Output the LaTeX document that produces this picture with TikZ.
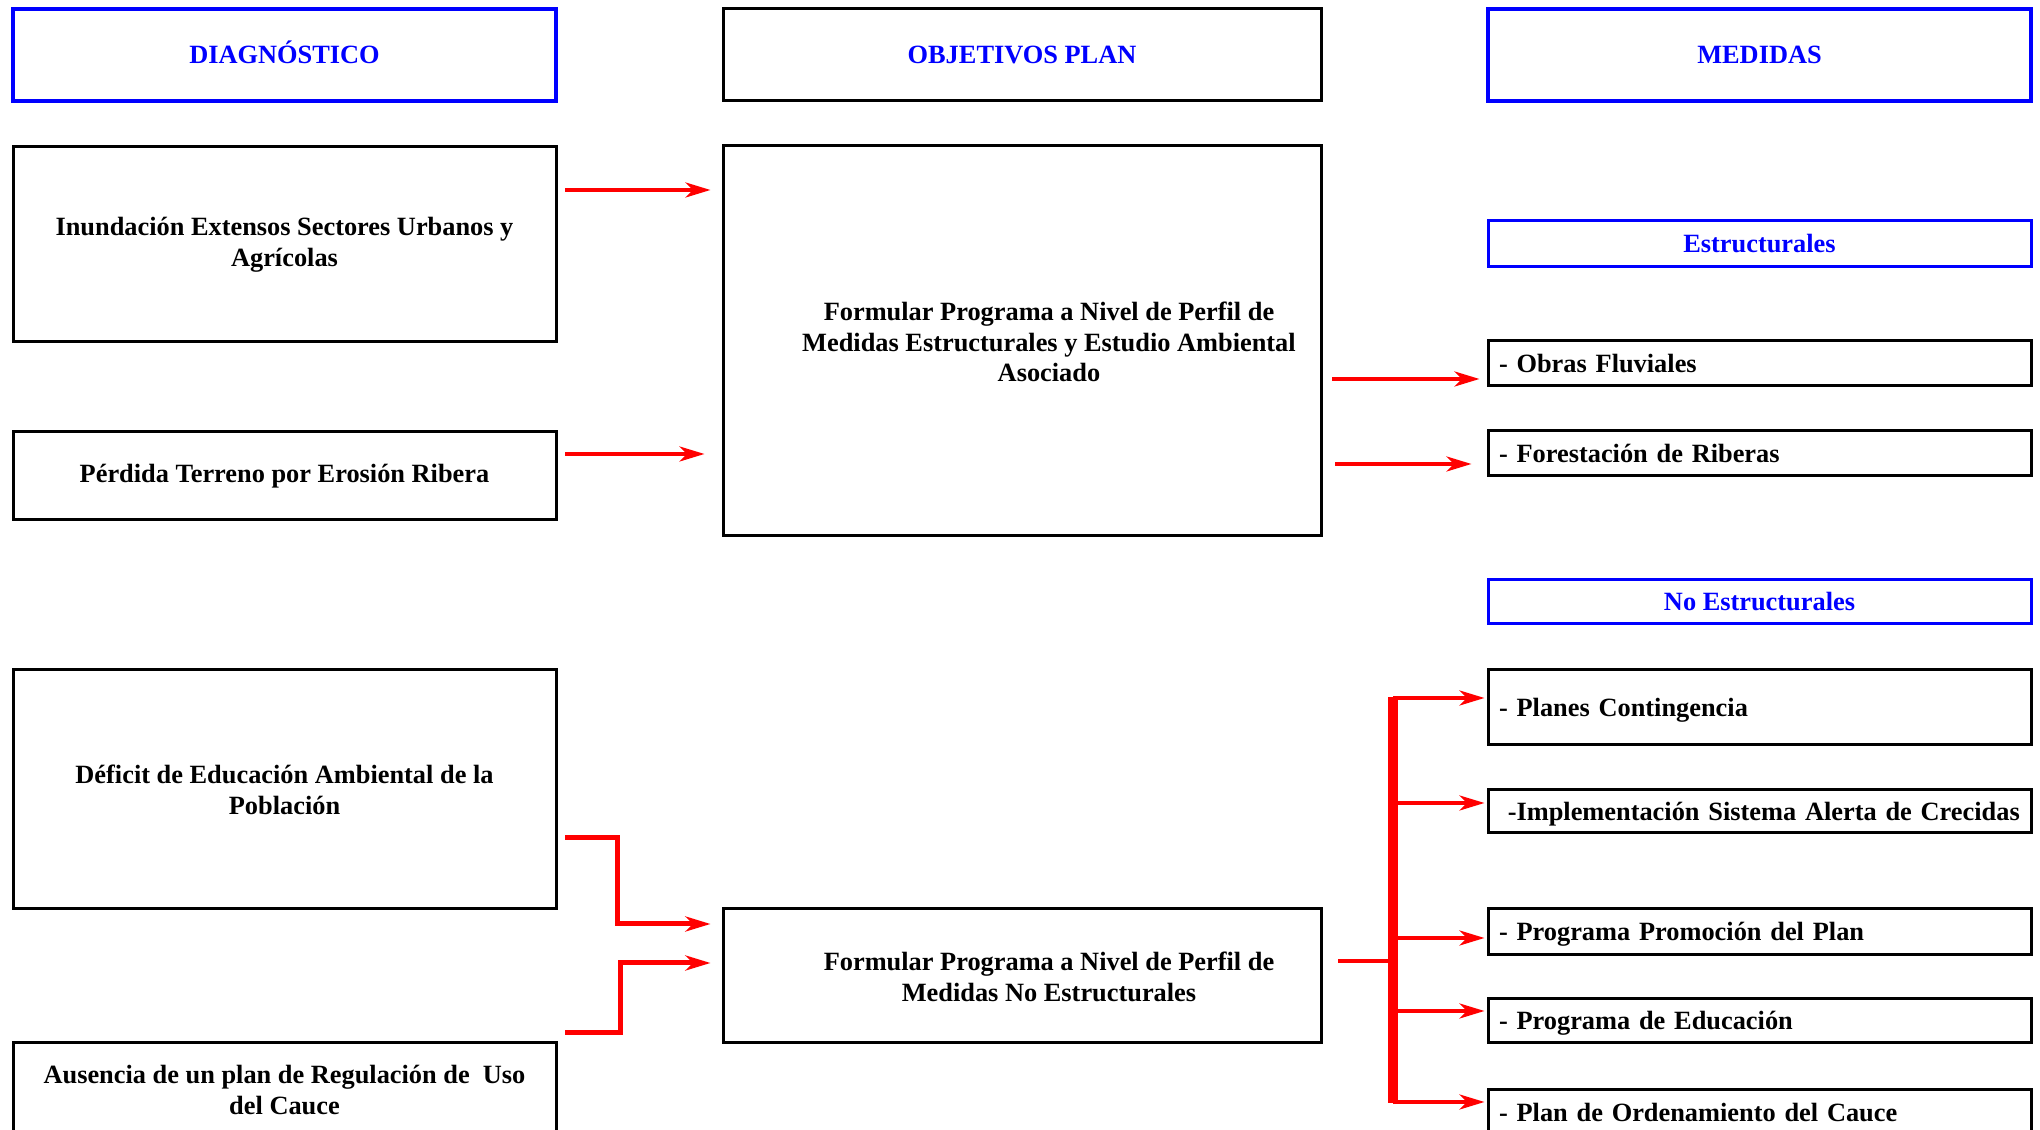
\documentclass[tikz,border=0pt]{standalone}
\usepackage{fontspec}
\setmainfont{Liberation Serif}
\usetikzlibrary{arrows.meta}
\definecolor{planblue}{HTML}{0000FF}
\definecolor{planred}{HTML}{FF0000}
\tikzset{
  caja/.style={draw=black,line width=0.06cm,align=center,inner sep=0pt,
    font=\fontsize{15}{17.5}\selectfont\bfseries},
  cabecera/.style={caja,draw=planblue,line width=0.08cm,text=planblue,
    minimum height=1.84cm,text height=10.2pt,text depth=0pt},
  diagbox/.style={caja,minimum width=10.86cm},
  subcab/.style={caja,draw=planblue,text=planblue,minimum width=10.86cm,
    text height=10.2pt,text depth=0pt},
  medida/.style={caja,align=left,text width=10.42cm,inner xsep=0.22cm,
    minimum width=10.86cm,text height=10.2pt,text depth=0pt},
  flecha/.style={draw=planred,line width=0.08cm,
    -{Stealth[length=0.5cm,width=0.3cm,inset=0.15cm]}},
  codo/.style={flecha,line width=0.1cm}
}

\begin{document}
\begin{tikzpicture}[x=1cm,y=1cm]
  \useasboundingbox (0,0) rectangle (40.8,22.6);
  \clip (0,0) rectangle (40.8,22.6);

  % cabeceras
  \node[cabecera,minimum width=10.86cm] (diag) at (5.69,21.50) {DIAGNÓSTICO};
  \node[caja,text=planblue,minimum width=11.96cm,minimum height=1.84cm] (obj) at (20.44,21.50) {OBJETIVOS PLAN};
  \node[cabecera,minimum width=10.86cm] (med) at (35.19,21.50) {MEDIDAS};

  % diagnostico
  \node[diagbox,minimum height=3.90cm] (inund) at (5.69,17.71) {Inundación Extensos Sectores Urbanos y\\Agrícolas};
  \node[diagbox,minimum height=1.76cm] (perdida) at (5.69,13.08) {Pérdida Terreno por Erosión Ribera};
  \node[diagbox,minimum height=4.78cm] (deficit) at (5.69,6.81) {Déficit de Educación Ambiental de la\\Población};
  \node[diagbox,minimum height=1.88cm] (ausencia) at (5.69,0.80) {Ausencia de un plan de Regulación de\ \ Uso\\del Cauce};

  % objetivos
  \node[caja,minimum width=11.96cm,minimum height=7.80cm] (objest) at (20.44,15.78) {};
  \node[caja,draw=none] (objesttxt) at (20.98,15.76) {Formular Programa a Nivel de Perfil de\\Medidas Estructurales y Estudio Ambiental\\Asociado};
  \node[caja,minimum width=11.96cm,minimum height=2.68cm] (objnoest) at (20.44,3.08) {};
  \node[caja,draw=none] (objnoesttxt) at (20.98,3.06) {Formular Programa a Nivel de Perfil de\\Medidas No Estructurales};

  % medidas
  \node[subcab,minimum height=0.92cm] (estruc) at (35.19,17.72) {Estructurales};
  \node[medida,minimum height=0.90cm] (obras) at (35.19,15.33) {- Obras Fluviales};
  \node[medida,minimum height=0.90cm] (forest) at (35.19,13.53) {- Forestación de Riberas};
  \node[subcab,minimum height=0.88cm] (noestruc) at (35.19,10.56) {No Estructurales};
  \node[medida,minimum height=1.50cm] (planes) at (35.19,8.45) {- Planes Contingencia};
  \node[medida,minimum height=0.86cm] (alerta) at (35.19,6.37) {\ -Implementación Sistema Alerta de Crecidas};
  \node[medida,minimum height=0.92cm] (promo) at (35.19,3.96) {- Programa Promoción del Plan};
  \node[medida,minimum height=0.88cm] (educa) at (35.19,2.18) {- Programa de Educación};
  \node[medida,minimum height=0.90cm] (orden) at (35.19,0.35) {- Plan de Ordenamiento del Cauce};

  % flechas rectas
  \coordinate (a1) at (11.30,18.80);
  \coordinate (a2) at (11.30,13.52);
  \coordinate (a3) at (26.64,15.02);
  \coordinate (a4) at (26.70,13.32);
  \draw[flecha,shorten >=0.22cm] (a1) -- (a1 -| objest.west);
  \draw[flecha,shorten >=0.34cm] (a2) -- (a2 -| objest.west);
  \draw[flecha,shorten >=0.14cm] (a3) -- (a3 -| obras.west);
  \draw[flecha,shorten >=0.30cm] (a4) -- (a4 -| forest.west);

  % codos hacia medidas no estructurales
  \coordinate (e1) at (11.30,5.84);
  \coordinate (e1b) at (12.34,4.12);
  \coordinate (e2) at (11.30,1.94);
  \coordinate (e2b) at (12.40,3.34);
  \draw[codo,shorten >=0.22cm] (e1) -| (e1b) -- (e1b -| objnoest.west);
  \draw[codo,shorten >=0.22cm] (e2) -| (e2b) -- (e2b -| objnoest.west);

  % barra de reparto
  \coordinate (stub) at (26.76,3.38);
  \coordinate (bartop) at (27.86,8.66);
  \coordinate (barbot) at (27.86,0.54);
  \draw[draw=planred,line width=0.08cm] (stub) -- (stub -| bartop);
  \draw[draw=planred,line width=0.2cm] (bartop) -- (barbot);
  \foreach \y/\dest in {8.64/planes,6.54/alerta,3.84/promo,2.38/educa,0.56/orden}{
    \coordinate (o\dest) at (27.86,\y);
    \draw[flecha,shorten >=0.04cm] (o\dest) -- (o\dest -| \dest.west);
  }
\end{tikzpicture}
\end{document}
